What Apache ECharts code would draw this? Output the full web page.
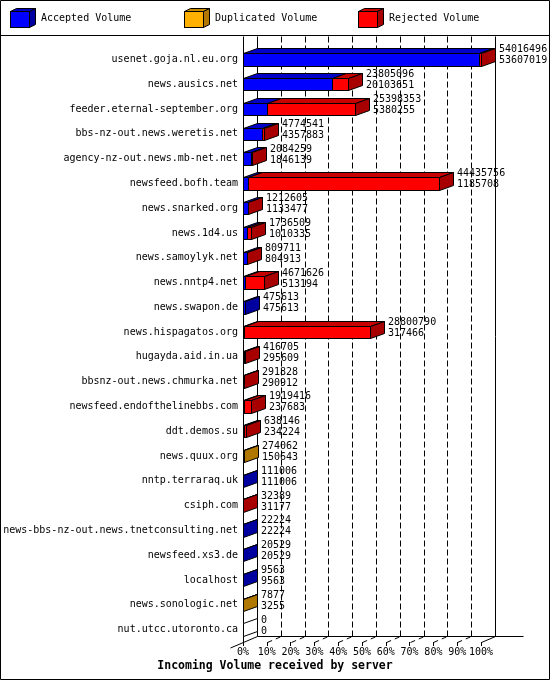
<!DOCTYPE html>
<html><head><meta charset="utf-8">
<script src="https://cdn.jsdelivr.net/npm/echarts@6/dist/echarts.min.js"></script>
<style>html,body{margin:0;padding:0;background:#fff}#c{width:550px;height:680px}</style>
</head><body><div id="c"></div>
<script>
const servers = ['usenet.goja.nl.eu.org','news.ausics.net','feeder.eternal-september.org','bbs-nz-out.news.weretis.net','agency-nz-out.news.mb-net.net','newsfeed.bofh.team','news.snarked.org','news.1d4.us','news.samoylyk.net','news.nntp4.net','news.swapon.de','news.hispagatos.org','hugayda.aid.in.ua','bbsnz-out.news.chmurka.net','newsfeed.endofthelinebbs.com','ddt.demos.su','news.quux.org','nntp.terraraq.uk','csiph.com','news-bbs-nz-out.news.tnetconsulting.net','newsfeed.xs3.de','localhost','news.sonologic.net','nut.utcc.utoronto.ca'];
const totalVolume = [54016496,23805096,25398353,4774541,2084259,44435756,1212605,1736509,809711,4671626,475613,28800790,416705,291828,1919416,638146,274062,111006,32389,22224,20529,9563,7877,0];
const acceptedVolume = [53607019,20103651,5380255,4357883,1846139,1185708,1133477,1010335,804913,513194,475613,317466,295609,290912,237683,234224,150643,111006,31177,22224,20529,9563,3255,0];
const duplicatedVolume = [0,0,0,0,0,0,0,0,0,0,0,0,0,0,0,0,123419,0,0,0,0,0,4622,0];
const rejectedVolume = [409477,3701445,20018098,416658,238120,43250048,79128,726174,4798,4158432,0,28483324,121096,916,1681733,403922,0,0,1212,0,0,0,0,0];
const xTickLabels = ['0%','10%','20%','30%','40%','50%','60%','70%','80%','90%','100%'];

const FONT = 'DejaVu Sans Mono';
const DX = 14, DY = 5, WDX = 14, WDY = 6;
const maxTotal = Math.max(...totalVolume);
const pct = v => v / maxTotal * 100;
const r = v => Math.round(v) + 0.5;

const segs = [
  {name:'Accepted Volume', vals:acceptedVolume, c:{front:'#0000ff', top:'#0000c8', side:'#0000a0'}},
  {name:'Duplicated Volume', vals:duplicatedVolume, c:{front:'#ffb000', top:'#c88a00', side:'#b07800'}},
  {name:'Rejected Volume', vals:rejectedVolume, c:{front:'#ff0000', top:'#c80000', side:'#a80000'}}
];
function lastSeg(i){ let l=-1; segs.forEach((s,k)=>{ if(s.vals[i]>0) l=k; }); return l; }

function segSeries(k){
  const s = segs[k];
  const data = servers.map((_,i)=>{
    let start=0; for(let j=0;j<k;j++) start+=segs[j].vals[i];
    return [pct(start), pct(start+s.vals[i]), i];
  });
  return {
    type:'custom', name:s.name, coordinateSystem:'cartesian2d',
    encode:{x:[0,1], y:2}, data, z:3,
    itemStyle:{color:s.c.front},
    renderItem(params, api){
      const i = api.value(2);
      const v = s.vals[i];
      const last = lastSeg(i);
      const zeroRow = last === -1;
      if (v <= 0 && !(zeroRow && k===0)) return null;
      const p0 = api.coord([api.value(0), i]);
      const p1 = api.coord([api.value(1), i]);
      const h = api.size([0,1])[1]*0.5;
      const yt = r(p0[1]-h/2), yb = r(p0[1]+h/2);
      const x0 = r(p0[0]), x1 = r(p1[0]);
      const st = {stroke:'#000', lineWidth:1};
      const ch = [];
      if (zeroRow) {
        ch.push({type:'polygon', shape:{points:[[x1,yt],[x1+DX,yt-DY],[x1+DX,yb-DY],[x1,yb]]}, style:{fill:'#fff', stroke:'#000', lineWidth:1}});
        return {type:'group', children:ch};
      }
      ch.push({type:'rect', shape:{x:x0,y:yt,width:x1-x0,height:yb-yt}, style:Object.assign({fill:s.c.front}, st)});
      ch.push({type:'polygon', shape:{points:[[x0,yt],[x1,yt],[x1+DX,yt-DY],[x0+DX,yt-DY]]}, style:Object.assign({fill:s.c.top}, st)});
      if (k === last) {
        ch.push({type:'polygon', shape:{points:[[x1,yt],[x1+DX,yt-DY],[x1+DX,yb-DY],[x1,yb]]}, style:Object.assign({fill:s.c.side}, st)});
      }
      return {type:'group', children:ch};
    }
  };
}

const frameSeries = {
  type:'custom', name:'frame', coordinateSystem:'cartesian2d', silent:true, z:1,
  encode:{x:0, y:1}, data:[[0,0]],
  renderItem(params, api){
    const cs = params.coordSys;
    const left = r(cs.x), right = r(cs.x+cs.width), top = cs.y, bottom = r(cs.y+cs.height);
    const topExt = r(top - 11);
    const fy = bottom - WDY;
    const solid = {stroke:'#000', lineWidth:1};
    const dash = {stroke:'#000', lineWidth:1, lineDash:[6,3]};
    const ch = [];
    const L = (x1,y1,x2,y2,style)=>ch.push({type:'line', shape:{x1,y1,x2,y2}, style});
    for (let t=1; t<xTickLabels.length-1; t++) {
      const xf = r(api.coord([t*10, 0])[0]);
      L(xf+WDX, topExt, xf+WDX, fy, dash);
      L(xf, bottom, xf+WDX, fy, {stroke:'#000', lineWidth:1, lineDash:[5,4]});
    }
    L(left, topExt, left, bottom, solid);
    L(left+WDX, topExt, left+WDX, fy, solid);
    L(right+WDX, topExt, right+WDX, fy, solid);
    L(left+WDX, fy, right+WDX+28, fy, solid);
    L(right, bottom, right+WDX, fy, solid);
    L(left-13, bottom+5.5, left+WDX, fy, solid);
    return {type:'group', children:ch};
  }
};

const labelSeries = {
  type:'custom', name:'labels', coordinateSystem:'cartesian2d', silent:true, z:4,
  encode:{x:0, y:1},
  data: servers.map((_,i)=>[pct(totalVolume[i]), i]),
  renderItem(params, api){
    const i = api.value(1);
    const p = api.coord([api.value(0), i]);
    return {type:'text', style:{
      text: totalVolume[i] + '\n' + acceptedVolume[i],
      x: Math.round(p[0]) + DX + 4, y: Math.round(p[1]) - 4,
      verticalAlign:'middle', align:'left',
      font: '10px "' + FONT + '"', lineHeight: 11, fill:'#000'
    }};
  }
};

function cube(c){
  const svg = '<svg xmlns="http://www.w3.org/2000/svg" width="26" height="20" viewBox="0 0 26 20">'
   + '<polygon points="0.5,3.5 19.5,3.5 25.5,0.5 6.5,0.5" fill="'+c.top+'" stroke="#000"/>'
   + '<polygon points="19.5,3.5 25.5,0.5 25.5,16.5 19.5,19.5" fill="'+c.side+'" stroke="#000"/>'
   + '<rect x="0.5" y="3.5" width="19" height="16" fill="'+c.front+'" stroke="#000"/></svg>';
  return 'image://data:image/svg+xml;charset=utf-8,' + encodeURIComponent(svg);
}
const legendLefts = [10, 184, 358];
const legends = segs.map((s,k)=>({
  data:[{name:s.name, icon:cube(s.c)}], left:legendLefts[k], top:8, padding:0,
  itemWidth:26, itemHeight:20, itemGap:0,
  textStyle:{fontFamily:FONT, fontSize:10, color:'#000', padding:[5,0,0,0]}
}));

const chart = echarts.init(document.getElementById('c'), null, {renderer:'canvas'});
chart.setOption({
  animation:false,
  backgroundColor:'#fff',
  title:{text:'Incoming Volume received by server', left:'center', top:660, padding:0,
    textStyle:{fontFamily:FONT, fontWeight:'bold', fontSize:11.5, color:'#000'}},
  legend: legends,
  grid:{left:243, right:69, top:47, bottom:38, containLabel:false},
  xAxis:{type:'value', min:0, max:100, interval:10,
    axisLine:{show:false}, splitLine:{show:false},
    axisTick:{show:true, length:4, lineStyle:{color:'#000', width:1}},
    axisLabel:{formatter:v=>xTickLabels[Math.round(v/10)], fontFamily:FONT, fontSize:10, color:'#000', margin:5}},
  yAxis:{type:'category', data:servers, inverse:true,
    axisLine:{show:false}, axisTick:{show:false}, splitLine:{show:false},
    axisLabel:{fontFamily:FONT, fontSize:10, color:'#000', margin:5}},
  graphic:[
    {type:'rect', shape:{x:0.5, y:0.5, width:549, height:679}, style:{fill:'none', stroke:'#000', lineWidth:1}, silent:true},
    {type:'line', shape:{x1:0, y1:35.5, x2:550, y2:35.5}, style:{stroke:'#000', lineWidth:1}, silent:true}
  ],
  series:[frameSeries, segSeries(0), segSeries(1), segSeries(2), labelSeries]
});
</script></body></html>
